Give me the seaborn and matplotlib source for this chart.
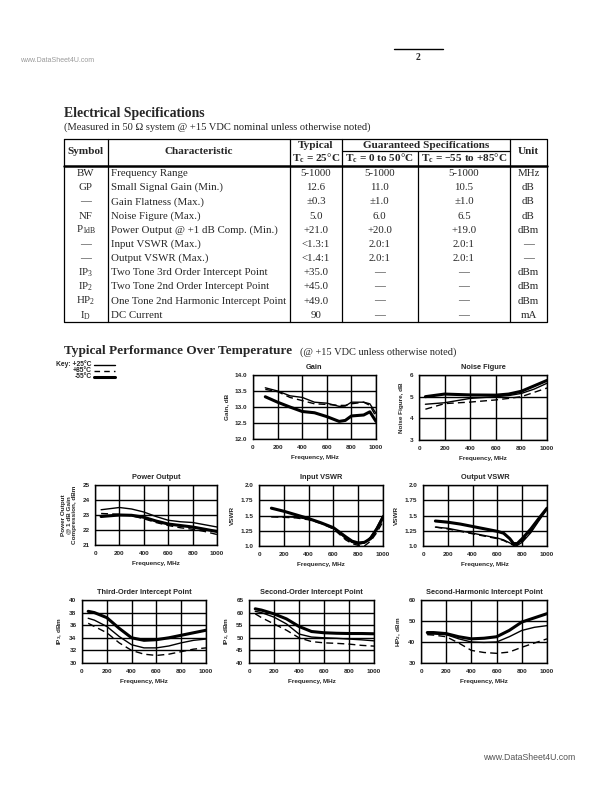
import matplotlib
matplotlib.use("Agg")
import matplotlib.pyplot as plt
import seaborn as sns
import numpy as np
import pandas as pd

sns.set_style("white")
plt.rcParams['font.family'] = ['Liberation Sans', 'DejaVu Sans']
plt.rcParams['mathtext.default'] = 'regular'

W, H = 612, 792

# ---------------- table data ----------------
symbols = ["BW", "GP", "—", "NF", "P$_{1dB}$", "—", "—", "IP$_3$", "IP$_2$", "HP$_2$", "I$_D$"]
characteristics = ["Frequency Range", "Small Signal Gain (Min.)", "Gain Flatness (Max.)",
                   "Noise Figure (Max.)", "Power Output @ +1 dB Comp. (Min.)",
                   "Input VSWR (Max.)", "Output VSWR (Max.)",
                   "Two Tone 3rd Order Intercept Point", "Two Tone 2nd Order Intercept Point",
                   "One Tone 2nd Harmonic Intercept Point", "DC Current"]
typical_25 = ["5-1000", "12.6", "±0.3", "5.0", "+21.0", "<1.3:1", "<1.4:1", "+35.0", "+45.0", "+49.0", "90"]
guar_0_50 = ["5-1000", "11.0", "±1.0", "6.0", "+20.0", "2.0:1", "2.0:1", "—", "—", "—", "—"]
guar_m55_85 = ["5-1000", "10.5", "±1.0", "6.5", "+19.0", "2.0:1", "2.0:1", "—", "—", "—", "—"]
units = ["MHz", "dB", "dB", "dB", "dBm", "—", "—", "dBm", "dBm", "dBm", "mA"]

# ---------------- chart data ----------------
temps = ["+25°C", "+85°C", "-55°C"]

gain_freq = [100, 200, 300, 400, 500, 600, 700, 750, 800, 900, 950, 1000]
gain_25 = [13.6, 13.5, 13.35, 13.3, 13.15, 13.12, 13.02, 13.03, 13.15, 13.15, 13.1, 12.8]
gain_85 = [13.55, 13.48, 13.3, 13.2, 13.1, 13.08, 13.05, 13.05, 13.1, 13.15, 13.05, 12.7]
gain_m55 = [13.32, 13.15, 13.0, 12.86, 12.82, 12.7, 12.55, 12.58, 12.72, 12.75, 12.85, 12.55]

nf_freq = [50, 200, 400, 600, 700, 800, 900, 1000]
nf_25 = [4.65, 4.72, 4.92, 5.0, 5.05, 5.15, 5.35, 5.62]
nf_85 = [4.42, 4.68, 4.75, 4.85, 4.92, 5.0, 5.2, 5.4]
nf_m55 = [5.0, 5.12, 5.08, 5.07, 5.12, 5.25, 5.5, 5.75]

pout_freq = [50, 200, 300, 400, 500, 600, 700, 800, 900, 1000]
pout_25 = [23.35, 23.5, 23.4, 23.2, 22.9, 22.65, 22.55, 22.5, 22.35, 22.2]
pout_85 = [23.1, 23.05, 22.95, 22.75, 22.5, 22.3, 22.15, 22.05, 21.9, 21.7]
pout_m55 = [22.9, 23.0, 22.98, 22.85, 22.6, 22.4, 22.3, 22.2, 22.05, 21.9]

ivswr_freq = [100, 200, 300, 400, 500, 600, 700, 750, 800, 850, 900, 950, 1000]
ivswr_25 = [1.48, 1.48, 1.47, 1.44, 1.38, 1.3, 1.12, 1.06, 1.03, 1.05, 1.15, 1.3, 1.5]
ivswr_85 = [1.48, 1.47, 1.46, 1.43, 1.37, 1.28, 1.1, 1.04, 1.01, 1.0, 1.08, 1.22, 1.4]
ivswr_m55 = [1.62, 1.57, 1.51, 1.45, 1.38, 1.3, 1.15, 1.08, 1.05, 1.06, 1.12, 1.28, 1.47]

ovswr_freq = [100, 200, 300, 400, 500, 600, 650, 700, 730, 760, 800, 870, 930, 1000]
ovswr_25 = [1.31, 1.29, 1.25, 1.21, 1.17, 1.13, 1.1, 1.05, 1.02, 1.01, 1.06, 1.22, 1.4, 1.6]
ovswr_85 = [1.31, 1.28, 1.24, 1.2, 1.16, 1.12, 1.09, 1.04, 1.01, 1.02, 1.08, 1.24, 1.42, 1.63]
ovswr_m55 = [1.41, 1.39, 1.36, 1.32, 1.28, 1.24, 1.21, 1.12, 1.04, 1.04, 1.12, 1.28, 1.44, 1.62]

ip3_freq = [50, 100, 200, 300, 400, 500, 600, 700, 800, 900, 1000]
ip3_25 = [37.1, 36.8, 35.8, 34.2, 32.9, 32.4, 32.4, 32.7, 33.2, 33.6, 33.8]
ip3_85 = [36.3, 35.8, 34.8, 33.2, 32.0, 31.4, 31.2, 31.4, 31.8, 32.2, 32.4]
ip3_m55 = [38.2, 38.0, 37.2, 35.5, 34.0, 33.6, 33.7, 34.0, 34.4, 34.8, 35.2]

ip2_freq = [50, 100, 200, 300, 400, 500, 600, 700, 800, 900, 1000]
ip2_25 = [60.5, 60.0, 58.2, 55.5, 51.5, 50.3, 50.0, 49.8, 49.5, 49.2, 48.8]
ip2_85 = [59.5, 58.0, 55.5, 53.0, 50.0, 48.5, 48.0, 47.8, 47.5, 47.0, 46.7]
ip2_m55 = [61.5, 61.0, 59.5, 57.5, 54.5, 52.5, 52.0, 51.8, 51.7, 51.7, 51.6]

hp2_freq = [50, 100, 200, 300, 400, 500, 600, 700, 800, 900, 1000]
hp2_25 = [43.8, 43.8, 43.5, 41.5, 40.0, 39.8, 40.0, 42.5, 45.5, 47.0, 47.8]
hp2_85 = [43.5, 43.3, 42.5, 39.5, 36.0, 35.0, 34.6, 35.2, 37.5, 39.5, 41.5]
hp2_m55 = [44.5, 44.5, 44.0, 42.5, 41.5, 41.8, 42.5, 45.5, 49.5, 51.5, 53.5]

freq_ticks = [0, 200, 400, 600, 800, 1000]

fig = plt.figure(figsize=(W / 100, H / 100), dpi=100)
fig.patch.set_facecolor("white")

# overlay in pixel coordinates for page text/table
ov = fig.add_axes([0, 0, 1, 1])
ov.set_xlim(0, W)
ov.set_ylim(H, 0)
ov.axis("off")

SERIF = ['Liberation Serif', 'DejaVu Serif']

# page header
ov.plot([394, 443], [48.5, 48.5], color="black", lw=1)
ov.text(418.5, 57, "2", ha="center", va="center", family=SERIF, fontsize=7, fontweight="bold")
ov.text(20, 60, "www.DataSheet4U.com", ha="left", va="center", fontsize=5, color="#9a9a9a")
ov.text(483, 757, "www.DataSheet4U.com", ha="left", va="center", fontsize=6.3, color="#555555")

# Electrical specifications
ov.text(64, 114, "Electrical Specifications", ha="left", va="center", family=SERIF,
        fontsize=9.9, fontweight="bold")
ov.text(64, 127.5, "(Measured in 50 Ω system @ +15 VDC nominal unless otherwise noted)",
        ha="left", va="center", family=SERIF, fontsize=7.55)

tl, tr, tt, tb = 64, 547, 139, 321.7
hdr_b = 165.7
sub_y = 151
cols = [64, 107.7, 290, 341.7, 417.7, 510, 547]
ov.plot([tl, tr, tr, tl, tl], [tt, tt, tb, tb, tt], color="black", lw=0.9)
for k, cx in enumerate(cols[1:-1], start=1):
    top = sub_y if k == 4 else tt
    ov.plot([cx, cx], [top, tb], color="black", lw=0.9)
ov.plot([tl, tr], [hdr_b, hdr_b], color="black", lw=1.8)
ov.plot([cols[3], cols[5]], [sub_y, sub_y], color="black", lw=0.9)

hfs = 8.1
ov.text((cols[0] + cols[1]) / 2, 152, "Symbol", ha="center", va="center", family=SERIF, fontsize=hfs, fontweight="bold")
ov.text((cols[1] + cols[2]) / 2, 152, "Characteristic", ha="center", va="center", family=SERIF, fontsize=hfs, fontweight="bold")
ov.text((cols[2] + cols[3]) / 2, 145, "Typical", ha="center", va="center", family=SERIF, fontsize=hfs, fontweight="bold")
ov.text((cols[2] + cols[3]) / 2, 158, "T$_c$ = 25°C", ha="center", va="center", family=SERIF, fontsize=hfs, fontweight="bold")
ov.text((cols[3] + cols[5]) / 2, 145, "Guaranteed Specifications", ha="center", va="center", family=SERIF, fontsize=hfs, fontweight="bold")
ov.text((cols[3] + cols[4]) / 2, 158, "T$_c$ = 0 to 50°C", ha="center", va="center", family=SERIF, fontsize=hfs, fontweight="bold")
ov.text((cols[4] + cols[5]) / 2, 158, "T$_c$ = –55 to +85°C", ha="center", va="center", family=SERIF, fontsize=hfs, fontweight="bold")
ov.text((cols[5] + cols[6]) / 2, 152, "Unit", ha="center", va="center", family=SERIF, fontsize=hfs, fontweight="bold")

rh = (tb - hdr_b) / len(symbols)
fs = 7.85
for i in range(len(symbols)):
    yc = hdr_b + rh * (i + 0.55)
    ov.text((cols[0] + cols[1]) / 2, yc, symbols[i], ha="center", va="center", family=SERIF, fontsize=fs)
    ov.text(cols[1] + 3, yc, characteristics[i], ha="left", va="center", family=SERIF, fontsize=fs)
    ov.text((cols[2] + cols[3]) / 2, yc, typical_25[i], ha="center", va="center", family=SERIF, fontsize=fs)
    ov.text((cols[3] + cols[4]) / 2, yc, guar_0_50[i], ha="center", va="center", family=SERIF, fontsize=fs)
    ov.text((cols[4] + cols[5]) / 2, yc, guar_m55_85[i], ha="center", va="center", family=SERIF, fontsize=fs)
    ov.text((cols[5] + cols[6]) / 2, yc, units[i], ha="center", va="center", family=SERIF, fontsize=fs)

# Typical performance section
ov.text(64, 351, "Typical Performance Over Temperature", ha="left", va="center", family=SERIF,
        fontsize=9.55, fontweight="bold")
ov.text(300.5, 352, "(@ +15 VDC unless otherwise noted)", ha="left", va="center", family=SERIF, fontsize=7.5)

styles = {
    "+25°C": dict(lw=1.0, ls="-"),
    "+85°C": dict(lw=1.0, ls=(0, (5, 3))),
    "-55°C": dict(lw=2.2, ls="-"),
}

# key
key_labels = ["Key: " + temps[0], temps[1], temps[2]]
for t, lab, yk in zip(temps, key_labels, [364.5, 370.6, 376.7]):
    ov.text(91.5, yk, lab, ha="right", va="center", fontsize=4.9, fontweight="bold")
    ov.plot([93.5, 115], [yk, yk], color="black", lw=styles[t]["lw"],
            ls=(0, (4, 3)) if t == "+85°C" else "-")

TICK_FS = 4.6


def make_ax(x0, y0, x1, y1):
    return fig.add_axes([x0 / W, 1 - y1 / H, (x1 - x0) / W, (y1 - y0) / H])


def chart(rect, freq, s25, s85, sm55, title, ylabel, ylim, yticks, ylabels):
    ax = make_ax(*rect)
    df = pd.DataFrame({
        "freq": list(freq) * 3,
        "val": list(s25) + list(s85) + list(sm55),
        "temp": [temps[0]] * len(freq) + [temps[1]] * len(freq) + [temps[2]] * len(freq),
    })
    for t in temps:
        sub = df[df["temp"] == t]
        sns.lineplot(data=sub, x="freq", y="val", ax=ax, color="black",
                     lw=styles[t]["lw"], linestyle=styles[t]["ls"], legend=False,
                     estimator=None, sort=False, zorder=3)
    ax.set_xlim(0, 1000)
    ax.set_ylim(*ylim)
    ax.set_xticks(freq_ticks)
    ax.set_yticks(yticks)
    ax.set_xticklabels([str(v) for v in freq_ticks])
    ax.set_yticklabels(ylabels)
    ax.grid(True, color="black", lw=1.0)
    ax.set_axisbelow(True)
    for sp in ax.spines.values():
        sp.set_visible(True)
        sp.set_color("black")
        sp.set_linewidth(1.0)
    ax.tick_params(length=0, pad=4, labelsize=TICK_FS)
    for lab in ax.get_xticklabels() + ax.get_yticklabels():
        lab.set_fontweight("bold")
    ax.set_title(title, fontsize=5.3, fontweight="bold", pad=4)
    ax.set_xlabel("Frequency, MHz", fontsize=4.6, fontweight="bold", labelpad=4)
    ax.set_ylabel(ylabel, fontsize=4.6, fontweight="bold", labelpad=4, linespacing=1.1)
    return ax


vswr_ticks = [1.0, 1.25, 1.5, 1.75, 2.0]
vswr_labels = ["1.0", "1.25", "1.5", "1.75", "2.0"]

chart((253, 375, 376, 439), gain_freq, gain_25, gain_85, gain_m55, "Gain", "Gain, dB",
      (12.0, 14.0), [12.0, 12.5, 13.0, 13.5, 14.0], ["12.0", "12.5", "13.0", "13.5", "14.0"])
chart((419, 375, 547, 440), nf_freq, nf_25, nf_85, nf_m55, "Noise Figure", "Noise Figure, dB",
      (3, 6), [3, 4, 5, 6], ["3", "4", "5", "6"])
chart((95, 485, 217, 545), pout_freq, pout_25, pout_85, pout_m55, "Power Output",
      "Power Output\n@ 1 dB Gain\nCompression, dBm", (21, 25), [21, 22, 23, 24, 25],
      ["21", "22", "23", "24", "25"])
chart((259, 485, 383, 546), ivswr_freq, ivswr_25, ivswr_85, ivswr_m55, "Input VSWR", "VSWR",
      (1.0, 2.0), vswr_ticks, vswr_labels)
chart((423, 485, 547, 546), ovswr_freq, ovswr_25, ovswr_85, ovswr_m55, "Output VSWR", "VSWR",
      (1.0, 2.0), vswr_ticks, vswr_labels)
chart((82, 600, 206, 663), ip3_freq, ip3_25, ip3_85, ip3_m55, "Third-Order Intercept Point",
      "IP$_3$, dBm", (30, 40), [30, 32, 34, 36, 38, 40], ["30", "32", "34", "36", "38", "40"])
chart((249, 600, 374, 663), ip2_freq, ip2_25, ip2_85, ip2_m55, "Second-Order Intercept Point",
      "IP$_2$, dBm", (40, 65), [40, 45, 50, 55, 60, 65], ["40", "45", "50", "55", "60", "65"])
chart((421, 600, 547, 663), hp2_freq, hp2_25, hp2_85, hp2_m55, "Second-Harmonic Intercept Point",
      "HP$_2$, dBm", (30, 60), [30, 40, 50, 60], ["30", "40", "50", "55"][:0] + ["30", "40", "50", "60"])

fig.savefig("out.png", dpi=100, facecolor="white")
